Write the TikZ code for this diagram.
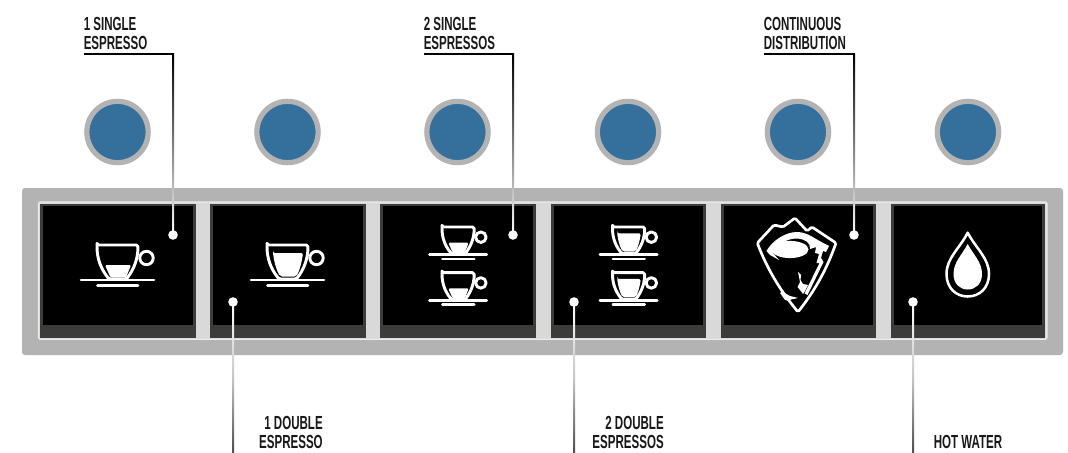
\documentclass[tikz,border=0pt]{standalone}
\usepackage{fontspec}
\setmainfont[FakeStretch=0.61]{Liberation Sans}
\usetikzlibrary{calc}
\definecolor{panelgray}{HTML}{B3B3B3}
\definecolor{bandgray}{HTML}{D9D9D9}
\definecolor{bandedge}{HTML}{ECECEC}
\definecolor{screengray}{HTML}{3C3C3B}
\definecolor{knobblue}{HTML}{356F9C}
\tikzset{
  lbl/.style={inner xsep=0pt,inner ysep=3.4pt,font=\fontsize{14.2}{13.9}\selectfont\bfseries,text=black!90,align=left},
  lblr/.style={lbl,align=right},
  knob/.style={circle,draw=panelgray,line width=3.9pt,fill=knobblue,minimum size=46pt,inner sep=0pt},
  dotnode/.style={circle,fill=white,draw=none,minimum size=7.2pt,inner sep=0pt},
  leader/.style={line width=1.5pt,black},
  ico/.style={draw=white,line width=2.2pt,line join=round},
  icothin/.style={draw=white,line width=2pt,line join=round},
  dropline/.style={draw=white,line width=1.9pt,line join=round},
  cup/.pic={
    \draw[ico,rounded corners=1.2pt] (0,0) -- (41,0) .. controls (41,14) and (37,24) .. (29.5,34) -- (12,34) .. controls (4,24) and (0,14) .. (0,0) -- cycle;
    \draw[ico] (49.5,13) circle[radius=6.7];
    \draw[icothin,line cap=round] (-16,35) -- (57,35);
    \draw[icothin,line cap=round] (0.5,40.7) -- (41,40.7);
  },
  cuplow/.pic={
    \fill[white,rounded corners=1pt] (8,20) -- (34,20) -- (29,32.5) -- (13.5,32.5) -- cycle;
  },
  cuphigh/.pic={
    \fill[white,rounded corners=1.5pt] (6,8) -- (36,8) .. controls (35,16) and (33,24) .. (29.5,31.5) -- (13,31.5) .. controls (9,24) and (7,16) .. (6,8) -- cycle;
  }
}
\newcommand{\gradvert}[4]{% from, to, top colour, bottom colour
  \shade[top color=#3,bottom color=#4] ($(#1)+(-1,0)$) rectangle ($(#2)+(1,0)$);}
\begin{document}
\begin{tikzpicture}[x=0.75pt,y=-0.75pt]
\useasboundingbox[fill=white] (0,0) rectangle (1068,453);
% panel
\fill[panelgray,rounded corners=2.2pt] (22,188) rectangle (1063,355);
\draw[bandedge,fill=bandgray,line width=0.8pt,rounded corners=1pt] (38.5,202) rectangle (1047,339.3);
% screens
\foreach \n/\xa/\xb in {1/40/196,2/210/365.5,3/380/535.5,4/551/705.5,5/720.5/875.5,6/891/1045}{
  \fill[screengray] (\xa,203.5) rectangle (\xb,337.5);
  \fill[black] (\xa+3,206) rectangle (\xb-3,325);
}
% knobs
\foreach \n/\x in {1/117.5,2/287.5,3/457.5,4/628,5/798,6/968}{
  \node[knob] (knob\n) at (\x,132) {};
}
% icons
\pic at (97,245) {cuplow};
\pic at (97,245) {cup};
\pic at (267,245) {cuphigh};
\pic at (267,245) {cup};
\foreach \y in {227,272.7}{
  \pic[scale=0.785] at (442,\y) {cuplow};
  \pic[scale=0.785] at (442,\y) {cup};
  \pic[scale=0.785] at (612.5,\y) {cuphigh};
  \pic[scale=0.785] at (612.5,\y) {cup};
}
% shield
\draw[white,line width=2pt,line join=round,rounded corners=1pt]
  (798,312) .. controls (785,296) and (770,276) .. (757.3,243) -- (774,225) -- (783,227) -- (795,218) -- (807,231) -- (812,227) -- (836,243)
  .. controls (825,274) and (812,294) .. (798,312) -- cycle;
\fill[white] (790,249.5) ellipse[x radius=18.5,y radius=8.6];
\fill[white,line join=round]
  (766.5,251) .. controls (772,241) and (785,232) .. (797,232) .. controls (808,232) and (816,240) .. (829,246)
  -- (826,252) -- (823,251) -- (821,258) -- (823.5,262) -- (807.5,295)
  -- (804.5,293.5) -- (819.5,263) -- (816.5,263) -- (819,254) -- (815,253) -- (816,247) -- (810,249)
  .. controls (811,243) and (805,239) .. (797,238.5) .. controls (787,238.5) and (778,244) .. (773,253)
  -- (779,260) -- (770,255) -- cycle;
% horn and lower claw
\fill[white,line join=round]
  (798,272) -- (801,275) -- (800.5,280) -- (803,284) -- (808,285) -- (805,291) -- (803,294) -- (800,290) -- (797.5,287) -- (800,282) -- cycle;
\fill[white,line join=round]
  (782,291.5) -- (790,296) -- (798,298) -- (791,299.5) -- (789,301) -- (785,300) -- (780,293) -- cycle;
% drop
\draw[dropline] (967.7,232.7) .. controls (960,248) and (946.5,258) .. (946.5,274) .. controls (946.5,288) and (956,296.5) .. (967.7,296.5) .. controls (979.5,296.5) and (989,288) .. (989,274) .. controls (989,258) and (975.5,248) .. (967.7,232.7) -- cycle;
\fill[white] (967.7,244) .. controls (962,255) and (953.5,262) .. (953.5,274) .. controls (953.5,284) and (960,289.5) .. (967.7,289.5) .. controls (975.5,289.5) and (982,284) .. (982,274) .. controls (982,262) and (973.5,255) .. (967.7,244) -- cycle;
% labels
\node[lbl,anchor=south west] (l1) at (83.5,54) {1 SINGLE\\ESPRESSO};
\node[lbl,anchor=south west] (l3) at (423.5,54) {2 SINGLE\\ESPRESSOS};
\node[lbl,anchor=south west] (l5) at (763.5,54) {CONTINUOUS\\DISTRIBUTION};
\node[lblr,anchor=south east] (l2) at (323,453.5) {1 DOUBLE\\ESPRESSO};
\node[lblr,anchor=south east] (l4) at (664,453.5) {2 DOUBLE\\ESPRESSOS};
\node[lbl,anchor=south west] (l6) at (933.5,453.5) {HOT WATER};
% dots
\foreach \n/\x/\y in {1/173/235,3/513/235,5/854/235,2/233/302,4/574/302,6/913/302}{
  \coordinate (pt\n) at (\x,\y);
}
% top connectors
\foreach \n in {1,3,5}{
  \draw[leader,line width=1.6pt] (l\n.south west) -- (l\n.south west -| pt\n);
  \draw[leader] (l\n.south west -| pt\n) -- (pt\n);
  \coordinate (cr\n) at (l\n.south west -| pt\n);
  \gradvert{cr\n}{pt\n}{black}{white}
  \node[dotnode] (d\n) at (pt\n) {};
}
% bottom connectors
\foreach \n in {2,4,6}{
  \coordinate (end\n) at (pt\n |- 0,453);
  \draw[leader] (pt\n) -- (end\n);
  \shade[top color=white,bottom color=black!70,middle color=black!22] ($(pt\n)+(-1,0)$) rectangle ($(end\n)+(1,0)$);
  \node[dotnode] (d\n) at (pt\n) {};
}
\end{tikzpicture}
\end{document}
